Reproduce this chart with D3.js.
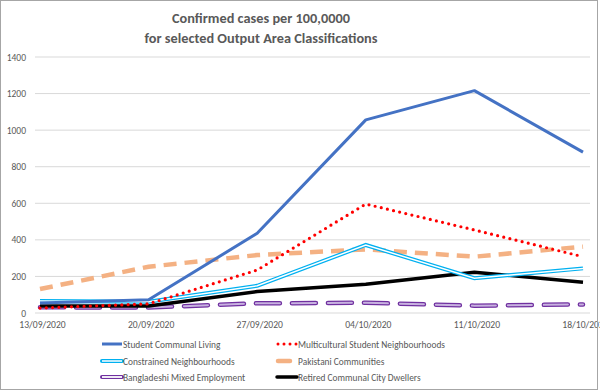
<!DOCTYPE html>
<html>
<head>
<meta charset="utf-8">
<script src="https://cdn.jsdelivr.net/npm/d3@7"></script>
<style>
  body { margin: 0; background: #fff; }
  text { font-family: Calibri, Carlito, "Open Sans", "Liberation Sans", sans-serif; fill: #595959; }
</style>
</head>
<body>
<svg id="chart" width="600" height="391"></svg>
<script>
// data
var weeks = ["13/09/2020", "20/09/2020", "27/09/2020", "04/10/2020", "11/10/2020", "18/10/2020"];
var yTicks = [0, 200, 400, 600, 800, 1000, 1200, 1400];

var studentCommunal = [55, 72, 436, 1056, 1216, 880];
var multiculturalStudent = [27, 50, 235, 596, 454, 308];
var constrained = [65, 62, 149, 372, 190, 244];
var pakistani = [131, 253, 317, 348, 308, 363];
var bangladeshi = [31, 30, 53, 56, 40, 47];
var retiredCity = [38, 38, 117, 157, 223, 168];

var seriesNames = ["Student Communal Living", "Multicultural Student Neighbourhoods",
    "Constrained Neighbourhoods", "Pakistani Communities",
    "Bangladeshi Mixed Employment", "Retired Communal City Dwellers"];

var svg = d3.select("#chart");
var width = 600, height = 391;
var fontStack = "Calibri, Carlito, 'Open Sans', 'Liberation Sans', sans-serif";

var x = d3.scalePoint().domain(weeks).range([40, 583]);
var y = d3.scaleLinear().domain([0, 1400]).range([313, 57]);

// title
svg.append("text").attr("x", 261).attr("y", 23).attr("text-anchor", "middle")
    .attr("font-size", 14.3).attr("font-weight", "bold").text("Confirmed cases per 100,0000");
svg.append("text").attr("x", 261).attr("y", 43).attr("text-anchor", "middle")
    .attr("font-size", 14.3).attr("font-weight", "bold").text("for selected Output Area Classifications");

// gridlines
svg.append("g").selectAll("line").data(yTicks).enter().append("line")
    .attr("x1", 35).attr("x2", 590)
    .attr("y1", function (d) { return y(d); })
    .attr("y2", function (d) { return y(d); })
    .attr("stroke", "#d9d9d9").attr("stroke-width", 1);

// y axis labels
var yAxis = d3.axisLeft(y).tickValues(yTicks).tickFormat(d3.format("d")).tickSize(0).tickPadding(0);
var gy = svg.append("g").attr("transform", "translate(26,0)").call(yAxis);
gy.select(".domain").remove();
gy.selectAll("text").attr("font-size", 9.5).attr("fill", "#595959").style("font-family", fontStack);

// x axis labels
var xAxis = d3.axisBottom(x).tickSize(0).tickPadding(0);
var gx = svg.append("g").attr("transform", "translate(2,321)").call(xAxis);
gx.select(".domain").remove();
gx.selectAll("text").attr("font-size", 9.6).attr("fill", "#595959").style("font-family", fontStack);

var line = d3.line()
    .x(function (d, i) { return x(weeks[i]); })
    .y(function (d) { return y(d); });

var plot = svg.append("g");

// Bangladeshi: double purple dashed line
plot.append("path").datum(bangladeshi).attr("d", line).attr("fill", "none")
    .attr("stroke", "#7030a0").attr("stroke-width", 4.5).attr("stroke-dasharray", "24 12")
    .attr("stroke-linecap", "round");
plot.append("path").datum(bangladeshi).attr("d", line).attr("fill", "none")
    .attr("stroke", "#c8b2e0").attr("stroke-width", 2).attr("stroke-dasharray", "24 12")
    .attr("stroke-linecap", "round");

// Pakistani: orange dashed
plot.append("path").datum(pakistani).attr("d", line).attr("fill", "none")
    .attr("stroke", "#f4b183").attr("stroke-width", 4.5).attr("stroke-dasharray", "13 8");

// Retired: black solid
plot.append("path").datum(retiredCity).attr("d", line).attr("fill", "none")
    .attr("stroke", "#000").attr("stroke-width", 3.5).attr("stroke-linejoin", "round");

// Constrained: cyan double line
plot.append("path").datum(constrained).attr("d", line).attr("fill", "none")
    .attr("stroke", "#00b0f0").attr("stroke-width", 4);
plot.append("path").datum(constrained).attr("d", line).attr("fill", "none")
    .attr("stroke", "#fff").attr("stroke-width", 1.5);

// Multicultural: red round dots
plot.append("path").datum(multiculturalStudent).attr("d", line).attr("fill", "none")
    .attr("stroke", "#ff0000").attr("stroke-width", 3.2).attr("stroke-dasharray", "0 6.3")
    .attr("stroke-linecap", "round");

// Student communal: blue solid
plot.append("path").datum(studentCommunal).attr("d", line).attr("fill", "none")
    .attr("stroke", "#4472c4").attr("stroke-width", 3).attr("stroke-linejoin", "round");

// legend
var legendX = [102, 277], legendY = [344, 361, 377];
var legend = svg.append("g");
seriesNames.forEach(function (name, i) {
    var lx = legendX[i % 2], ly = legendY[Math.floor(i / 2)];
    var g = legend.append("g");
    if (i === 0) {
        g.append("line").attr("x1", lx).attr("x2", lx + 20).attr("y1", ly).attr("y2", ly)
            .attr("stroke", "#4472c4").attr("stroke-width", 3);
    } else if (i === 1) {
        g.append("line").attr("x1", lx + 1).attr("x2", lx + 20).attr("y1", ly).attr("y2", ly)
            .attr("stroke", "#ff0000").attr("stroke-width", 3).attr("stroke-dasharray", "0 6")
            .attr("stroke-linecap", "round");
    } else if (i === 2) {
        g.append("line").attr("x1", lx).attr("x2", lx + 20).attr("y1", ly).attr("y2", ly)
            .attr("stroke", "#00b0f0").attr("stroke-width", 4).attr("stroke-linecap", "round");
        g.append("line").attr("x1", lx).attr("x2", lx + 20).attr("y1", ly).attr("y2", ly)
            .attr("stroke", "#fff").attr("stroke-width", 1.5);
    } else if (i === 3) {
        g.append("line").attr("x1", lx + 1).attr("x2", lx + 13).attr("y1", ly).attr("y2", ly)
            .attr("stroke", "#f4b183").attr("stroke-width", 4.5).attr("stroke-linecap", "round");
    } else if (i === 4) {
        g.append("line").attr("x1", lx).attr("x2", lx + 20).attr("y1", ly).attr("y2", ly)
            .attr("stroke", "#7030a0").attr("stroke-width", 4).attr("stroke-linecap", "round");
        g.append("line").attr("x1", lx).attr("x2", lx + 20).attr("y1", ly).attr("y2", ly)
            .attr("stroke", "#fff").attr("stroke-width", 1.8);
    } else {
        g.append("line").attr("x1", lx).attr("x2", lx + 20).attr("y1", ly).attr("y2", ly)
            .attr("stroke", "#000").attr("stroke-width", 3.5).attr("stroke-linecap", "round");
    }
    g.append("text").attr("x", lx + 21).attr("y", ly + 3.5).attr("font-size", 9.4).text(name);
});

// chart border
svg.append("rect").attr("x", 0.5).attr("y", 0.5).attr("width", width - 3).attr("height", height - 2)
    .attr("fill", "none").attr("stroke", "#a6a6a6").attr("stroke-width", 1);
</script>
</body>
</html>
